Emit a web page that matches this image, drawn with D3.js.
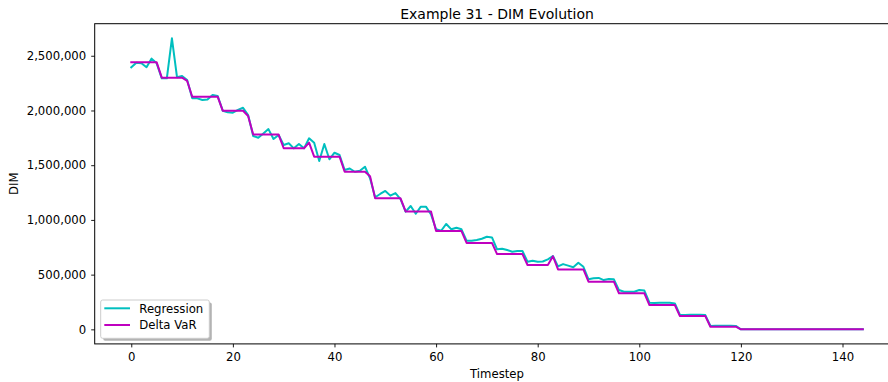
<!DOCTYPE html>
<html>
<head>
<meta charset="utf-8">
<script src="https://cdn.jsdelivr.net/npm/d3@7"></script>
<style>
  html, body { margin: 0; padding: 0; background: #ffffff; }
  svg { display: block; font-family: "DejaVu Sans", sans-serif; }
</style>
</head>
<body>
<svg id="chart" width="888" height="382"></svg>
<script>
// Timesteps 0..144
const timesteps = d3.range(0, 145);

// Regression estimate of DIM per timestep
const regression = [
  2395000, 2437000, 2431000, 2395000, 2474000, 2431000,
  2294000, 2294000, 2660000, 2304000, 2315000, 2279000,
  2111000, 2111000, 2096000, 2100000, 2142000, 2133000,
  1998000, 1983000, 1980000, 2005000, 2025000, 1959000,
  1767000, 1751000, 1790000, 1830000, 1740000, 1776000,
  1685000, 1700000, 1654000, 1694000, 1654000, 1746000,
  1706000, 1539000, 1694000, 1554000, 1614000, 1593000,
  1456000, 1470000, 1440000, 1450000, 1486000, 1380000,
  1207000, 1237000, 1265000, 1222000, 1245000, 1190000,
  1075000, 1127000, 1056000, 1121000, 1121000, 1050000,
  914000, 901000, 963000, 914000, 929000, 914000,
  810000, 810000, 816000, 828000, 846000, 840000,
  731000, 737000, 725000, 709000, 716000, 716000,
  618000, 627000, 618000, 620000, 640000, 670000,
  575000, 596000, 582000, 568000, 609000, 572000,
  457000, 466000, 470000, 450000, 460000, 457000,
  359000, 344000, 344000, 344000, 359000, 354000,
  243000, 240000, 243000, 243000, 243000, 236000,
  131000, 131000, 133000, 133000, 134000, 130000,
  31000, 33000, 32000, 33000, 33000, 31000,
  0, 0, 0, 0, 0, 0, 0, 0, 0, 0, 0, 0, 0,
  0, 0, 0, 0, 0, 0, 0, 0, 0, 0, 0, 0
];

// Delta VaR DIM per timestep
const deltaVaR = [
  2440000, 2440000, 2440000, 2440000, 2440000, 2440000,
  2300000, 2300000, 2300000, 2300000, 2300000, 2270000,
  2126000, 2126000, 2126000, 2126000, 2126000, 2126000,
  1998000, 1998000, 1998000, 1998000, 1998000, 1950000,
  1780000, 1780000, 1780000, 1780000, 1780000, 1780000,
  1655000, 1655000, 1655000, 1655000, 1655000, 1706000,
  1578000, 1578000, 1578000, 1578000, 1578000, 1578000,
  1440000, 1440000, 1440000, 1440000, 1440000, 1400000,
  1197000, 1197000, 1197000, 1197000, 1197000, 1197000,
  1078000, 1078000, 1078000, 1078000, 1078000, 1078000,
  898000, 898000, 898000, 898000, 898000, 898000,
  790000, 790000, 790000, 790000, 790000, 790000,
  688000, 688000, 688000, 688000, 688000, 688000,
  588000, 588000, 588000, 588000, 588000, 668000,
  548000, 548000, 548000, 548000, 548000, 548000,
  436000, 436000, 436000, 436000, 436000, 436000,
  330000, 330000, 330000, 330000, 330000, 330000,
  222000, 222000, 222000, 222000, 222000, 222000,
  121000, 121000, 121000, 121000, 121000, 121000,
  24000, 24000, 24000, 24000, 24000, 24000,
  0, 0, 0, 0, 0, 0, 0, 0, 0, 0, 0, 0, 0,
  0, 0, 0, 0, 0, 0, 0, 0, 0, 0, 0, 0
];

const xTicks = [0, 20, 40, 60, 80, 100, 120, 140];
const yTicks = [0, 500000, 1000000, 1500000, 2000000, 2500000];

const seriesNames = ["Regression", "Delta VaR"];
const seriesColors = ["#00bfbf", "#bf00bf"];

const svg = d3.select("#chart");

// Plot area (right edge runs past the canvas)
const plotLeft = 94.7, plotRight = 899.4, plotTop = 23.7, plotBottom = 343.9;

// Data limits padded by 5% each side
const xMin = d3.min(timesteps), xMax = d3.max(timesteps);
const xPad = (xMax - xMin) * 0.05;
const allVals = regression.concat(deltaVaR);
const yMin = d3.min(allVals), yMax = d3.max(allVals);
const yPad = (yMax - yMin) * 0.05;

const x = d3.scaleLinear().domain([xMin - xPad, xMax + xPad]).range([plotLeft, plotRight]);
const y = d3.scaleLinear().domain([yMin - yPad, yMax + yPad]).range([plotBottom, plotTop]);

const plot = svg.append("g");

const line = d3.line()
  .x((d, i) => x(timesteps[i]))
  .y(d => y(d));

[regression, deltaVaR].forEach((series, k) => {
  plot.append("path")
    .datum(series)
    .attr("fill", "none")
    .attr("stroke", seriesColors[k])
    .attr("stroke-width", 2)
    .attr("stroke-linejoin", "round")
    .attr("stroke-linecap", "square")
    .attr("d", line);
});

// Axes
const fmt = d3.format(",");
const xAxis = svg.append("g")
  .attr("transform", `translate(0,${plotBottom})`)
  .call(d3.axisBottom(x).tickValues(xTicks).tickSize(3.5).tickPadding(5).tickSizeOuter(0));
const yAxis = svg.append("g")
  .attr("transform", `translate(${plotLeft},0)`)
  .call(d3.axisLeft(y).tickValues(yTicks).tickFormat(fmt).tickSize(3.5).tickPadding(5).tickSizeOuter(0));

[xAxis, yAxis].forEach(g => {
  g.select(".domain").remove();
  g.selectAll(".tick line").attr("stroke", "#000").attr("stroke-width", 0.9);
  g.selectAll(".tick text")
    .attr("fill", "#000")
    .style("font-family", "DejaVu Sans, sans-serif")
    .style("font-size", "11.7px");
});

// Frame
svg.append("rect")
  .attr("x", plotLeft).attr("y", plotTop)
  .attr("width", plotRight - plotLeft).attr("height", plotBottom - plotTop)
  .attr("fill", "none")
  .attr("stroke", "#000")
  .attr("stroke-width", 1);

// Title and axis labels
svg.append("text")
  .attr("x", (plotLeft + plotRight) / 2).attr("y", 18.5)
  .attr("text-anchor", "middle")
  .style("font-size", "14px")
  .attr("fill", "#000")
  .text("Example 31 - DIM Evolution");

svg.append("text")
  .attr("x", (plotLeft + plotRight) / 2).attr("y", 378)
  .attr("text-anchor", "middle")
  .style("font-size", "11.7px")
  .attr("fill", "#000")
  .text("Timestep");

svg.append("text")
  .attr("transform", `translate(17.5,${(plotTop + plotBottom) / 2}) rotate(-90)`)
  .attr("text-anchor", "middle")
  .style("font-size", "11.7px")
  .attr("fill", "#000")
  .text("DIM");

// Legend with drop shadow
const lg = svg.append("g").attr("transform", "translate(100.7,300)");
const lw = 108.6, lh = 38.3;
lg.append("rect")
  .attr("x", 2.5).attr("y", 2.5).attr("width", lw).attr("height", lh)
  .attr("rx", 2).attr("fill", "#808080").attr("opacity", 0.6);
lg.append("rect")
  .attr("x", 0).attr("y", 0).attr("width", lw).attr("height", lh)
  .attr("rx", 2).attr("fill", "#fff").attr("stroke", "#cccccc").attr("stroke-width", 1);

seriesNames.forEach((name, i) => {
  const yy = 8.3 + i * 16.7;
  lg.append("line")
    .attr("x1", 3.6).attr("x2", 29.3)
    .attr("y1", yy).attr("y2", yy)
    .attr("stroke", seriesColors[i]).attr("stroke-width", 2);
  lg.append("text")
    .attr("x", 38.6).attr("y", yy + 4.2)
    .style("font-size", "11.7px")
    .attr("fill", "#000")
    .text(name);
});
</script>
</body>
</html>
